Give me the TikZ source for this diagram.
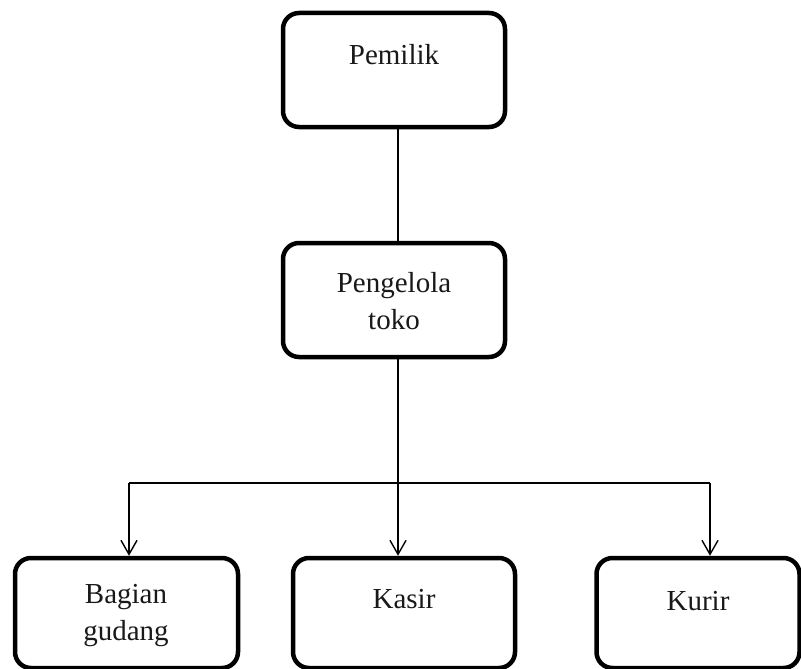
\documentclass[tikz,border=0pt]{standalone}
\usepackage{fontspec}
\setmainfont{Liberation Serif}
\usetikzlibrary{arrows.meta}
\tikzset{
  box/.style={draw=black, line width=4.5pt, rounded corners=16pt, fill=white, inner sep=0pt},
  lbl/.style={font=\fontsize{29}{37}\selectfont, inner sep=0pt, align=center, text=black!90},
  conn/.style={draw=black, line width=1.6pt},
  arr/.style={conn, -{Straight Barb[length=14pt,width=16pt,line width=1.4pt]}}
}
\begin{document}
\begin{tikzpicture}[x=1pt,y=-1pt]
\useasboundingbox (0,0) rectangle (801,669);
% boxes
\node[box, minimum width=222pt, minimum height=114pt] (pemilik) at (394,70) {};
\node[box, minimum width=222pt, minimum height=114pt] (pengelola) at (394,300) {};
\node[box, minimum width=223pt, minimum height=110pt] (gudang) at (126.5,613) {};
\node[box, minimum width=222pt, minimum height=110pt] (kasir) at (404,613) {};
\node[box, minimum width=203pt, minimum height=110pt] (kurir) at (698,613) {};
% labels
\node[lbl] (tpemilik) at (394,55) {Pemilik};
\node[lbl] (tpengelola) at (394,301) {Pengelola\\toko};
\node[lbl] (tgudang) at (126,616) {Bagian\\gudang};
\node[lbl] (tkasir) at (404,599) {Kasir};
\node[lbl] (tkurir) at (698,601) {Kurir};
% connectors
\coordinate (jl) at (129,483);
\coordinate (jm) at (398,483);
\coordinate (jr) at (710,483);
\draw[conn] (pemilik.south -| jm) -- (pengelola.north -| jm);
\draw[arr] (pengelola.south -| jm) -- (kasir.north -| jm);
\draw[conn] (jl) -- (jr);
\draw[arr] (jl) -- (gudang.north -| jl);
\draw[arr] (jr) -- (kurir.north -| jr);
\end{tikzpicture}
\end{document}
